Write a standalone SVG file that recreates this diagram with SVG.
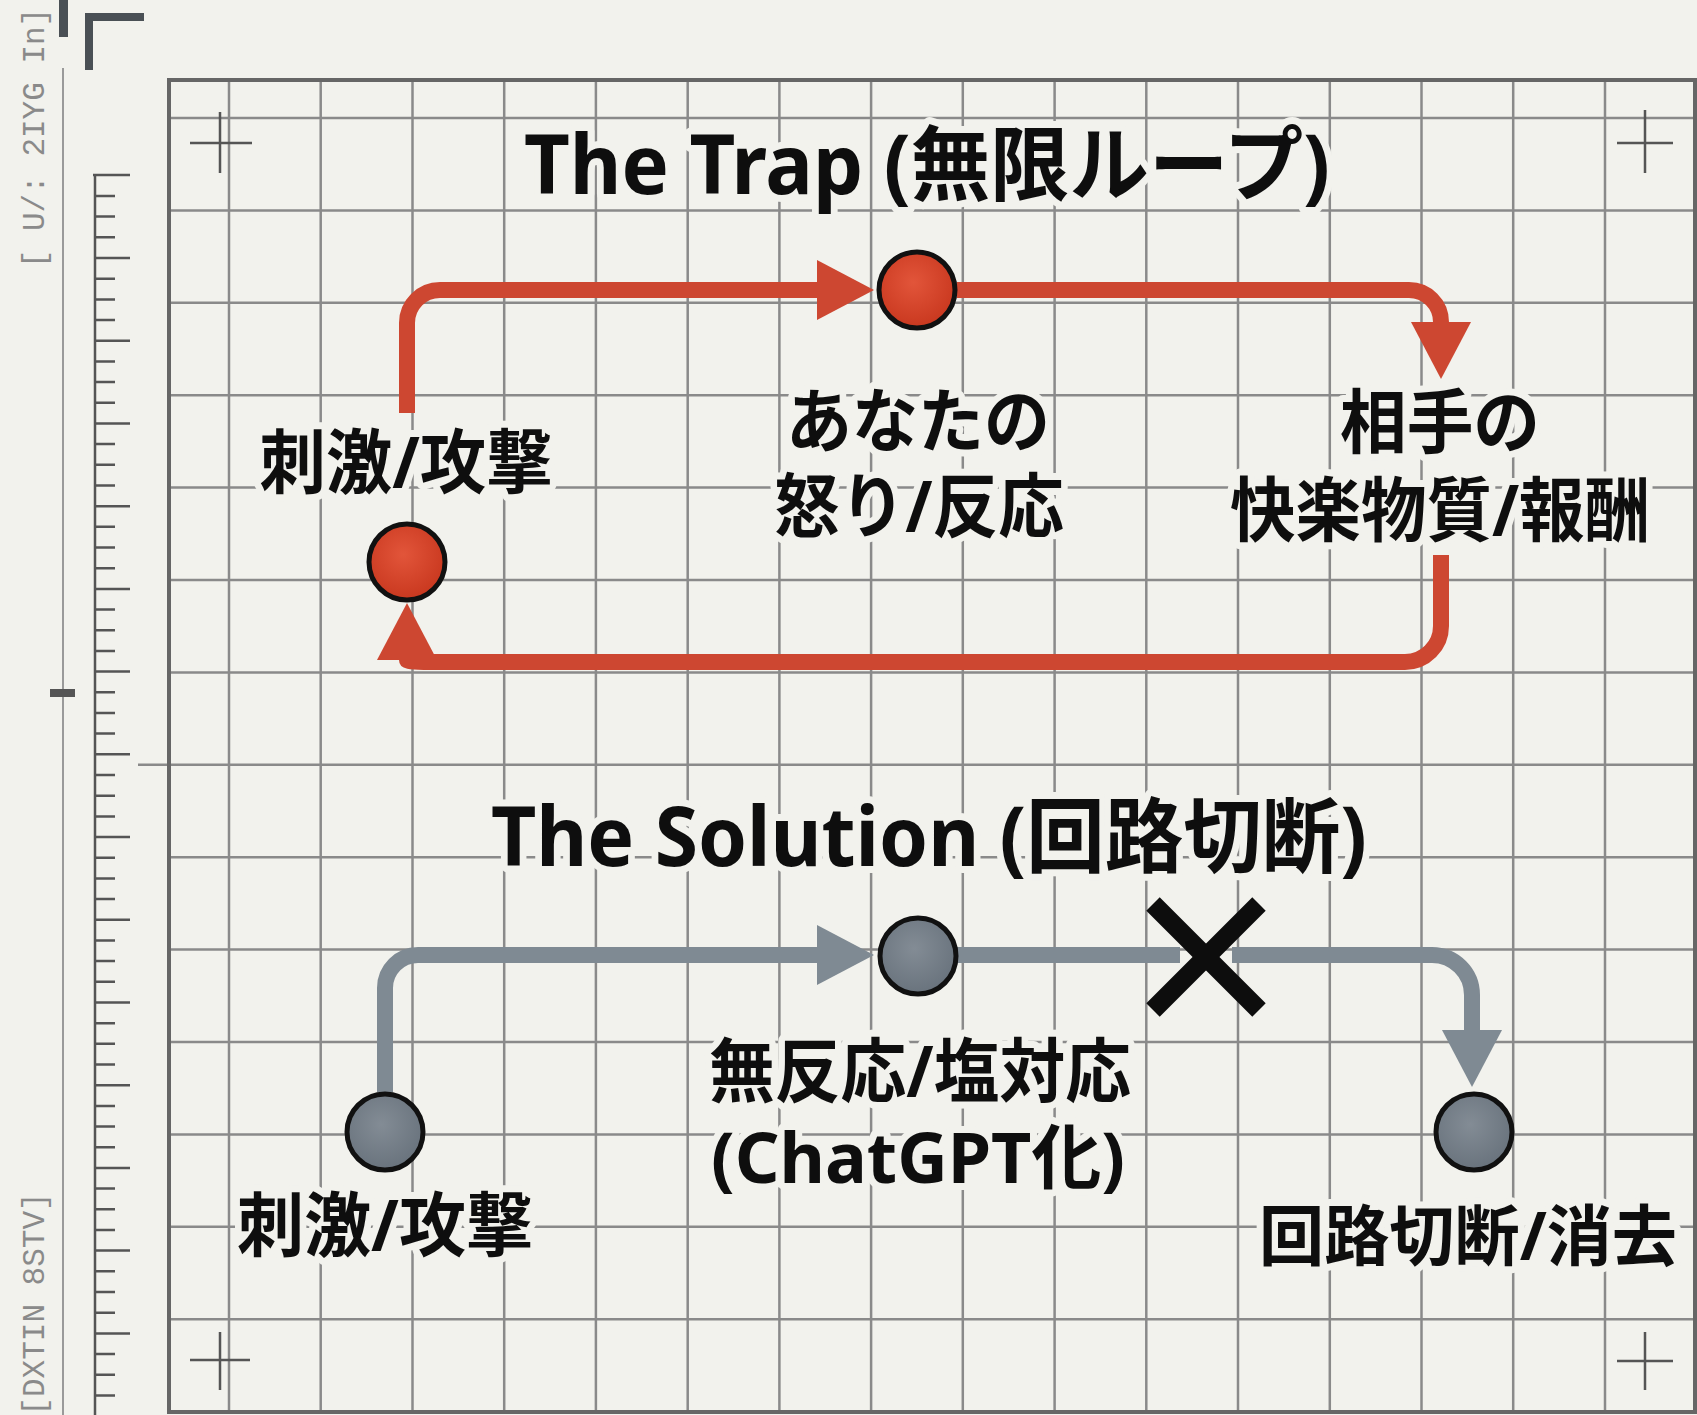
<svg xmlns="http://www.w3.org/2000/svg" width="1697" height="1415" viewBox="0 0 1697 1415">
<defs>
<style>
.grid{stroke:#8a8a8a;stroke-width:2.5;fill:none}
.frame{stroke:#666;stroke-width:4;fill:none}
.cross{stroke:#555;stroke-width:2.5;fill:none}
.ruler{stroke:#555;stroke-width:2.5;fill:none}
.lbl{font-family:'Noto Sans','Noto Sans CJK JP',sans-serif;font-weight:700;fill:#0e0e0e;text-anchor:middle;stroke:#f2f2ed;stroke-width:14;stroke-linejoin:round;paint-order:stroke}
.title{font-size:82px}
.node-lbl{font-size:70px}
.mono{font-family:'Liberation Mono',monospace;font-size:31px;fill:#8a8a8a;text-anchor:middle}
.red-line{stroke:#cd4731;stroke-width:16;fill:none}
.gray-line{stroke:#7f8a93;stroke-width:16;fill:none}
.node{stroke:#111;stroke-width:5}
</style>
<radialGradient id="gRed" cx="0.45" cy="0.4" r="0.6">
<stop offset="0" stop-color="#e2553a"/>
<stop offset="1" stop-color="#c9381f"/>
</radialGradient>
<radialGradient id="gGray" cx="0.45" cy="0.4" r="0.6">
<stop offset="0" stop-color="#838c95"/>
<stop offset="1" stop-color="#69737d"/>
</radialGradient>
<marker id="arrRed" markerUnits="userSpaceOnUse" viewBox="0 0 57 60" refX="0" refY="30" markerWidth="57" markerHeight="60" orient="auto">
<path d="M0,0 L57,30 L0,60 Z" fill="#cd4731"/>
</marker>
<marker id="arrGray" markerUnits="userSpaceOnUse" viewBox="0 0 57 60" refX="0" refY="30" markerWidth="57" markerHeight="60" orient="auto">
<path d="M0,0 L57,30 L0,60 Z" fill="#7f8a93"/>
</marker>
</defs>

<rect x="0" y="0" width="1697" height="1415" fill="#f2f2ed"/>

<g id="sheet-grid">
<path class="grid" d="M229,80V1412 M320.7,80V1412 M412.5,80V1412 M504.2,80V1412 M595.9,80V1412 M687.7,80V1412 M779.4,80V1412 M871.1,80V1412 M962.8,80V1412 M1054.6,80V1412 M1146.3,80V1412 M1238,80V1412 M1329.8,80V1412 M1421.5,80V1412 M1513.2,80V1412 M1605,80V1412"/>
<path class="grid" d="M169,118H1697 M169,210.4H1697 M169,302.8H1697 M169,395.2H1697 M169,487.6H1697 M169,580H1697 M169,672.4H1697 M138,764.8H1697 M169,857.2H1697 M169,949.6H1697 M169,1042H1697 M169,1134.4H1697 M169,1226.8H1697 M169,1319.2H1697"/>
<rect class="frame" x="169" y="80" width="1526" height="1332"/>
<path class="cross" d="M190,143H252 M220,112V173 M1617,143H1673 M1645,110V173 M190,1360H250 M220,1332V1390 M1617,1361H1673 M1645,1332V1390"/>
</g>

<g id="margin-ruler">
<line x1="63" y1="68" x2="63" y2="1415" stroke="#9a9a9a" stroke-width="2"/>
<rect x="50" y="689" width="25" height="8" fill="#555"/>
<rect x="59" y="0" width="9" height="37" fill="#4a5055"/>
<path d="M89,70V17H144" stroke="#4a5055" stroke-width="8" fill="none"/>
<path class="ruler" d="M95,175V1415 M93,175H130"/>
<path class="ruler" d="M95,196H115 M95,216.6H115 M95,237.3H115 M95,278.7H115 M95,299.4H115 M95,320H115 M95,361.4H115 M95,382.1H115 M95,402.8H115 M95,444.1H115 M95,464.8H115 M95,485.5H115 M95,526.8H115 M95,547.5H115 M95,568.2H115 M95,609.6H115 M95,630.2H115 M95,650.9H115 M95,692.3H115 M95,713H115 M95,733.6H115 M95,775H115 M95,795.7H115 M95,816.4H115 M95,857.7H115 M95,878.4H115 M95,899.1H115 M95,940.4H115 M95,961.1H115 M95,981.8H115 M95,1023.2H115 M95,1043.8H115 M95,1064.5H115 M95,1105.9H115 M95,1126.6H115 M95,1147.2H115 M95,1188.6H115 M95,1209.3H115 M95,1230H115 M95,1271.3H115 M95,1292H115 M95,1312.7H115 M95,1354H115 M95,1374.7H115 M95,1395.4H115"/>
<path class="ruler" d="M95,258H130 M95,340.7H130 M95,423.4H130 M95,506.2H130 M95,588.9H130 M95,671.6H130 M95,754.3H130 M95,837H130 M95,919.8H130 M95,1002.5H130 M95,1085.2H130 M95,1167.9H130 M95,1250.6H130 M95,1333.4H130"/>
<text class="mono" transform="translate(44,138) rotate(-90)">[ U/: 2IYG In]</text>
<text class="mono" transform="translate(44,1304) rotate(-90)">[DXTIN 8STV]</text>
</g>

<g id="titles">
<text id="title-trap" class="lbl title" x="927" y="194" textLength="806" lengthAdjust="spacingAndGlyphs">The Trap (無限ループ)</text>
<text id="title-solution" class="lbl title" x="929" y="866" textLength="876" lengthAdjust="spacingAndGlyphs">The Solution (回路切断)</text>
</g>

<g id="connectors">
<path class="red-line" d="M407,413V323A33,33 0 0 1 440,290H817" marker-end="url(#arrRed)"/>
<path class="red-line" d="M957,290H1409A32,32 0 0 1 1441,322" marker-end="url(#arrRed)"/>
<path class="red-line" d="M1441,555V626A36,36 0 0 1 1405,662H437Q407,662 407,660" marker-end="url(#arrRed)"/>
<path class="gray-line" d="M385,1092V988A33,33 0 0 1 418,955H817" marker-end="url(#arrGray)"/>
<path class="gray-line" d="M957,955H1180 M1232,955H1432A40,40 0 0 1 1472,995V1030" marker-end="url(#arrGray)"/>
<g id="cut-mark" stroke="#0d0d0d" stroke-width="19">
<line x1="1153" y1="904" x2="1259" y2="1010"/>
<line x1="1259" y1="904" x2="1153" y2="1010"/>
</g>
</g>

<g id="trap-stimulus">
<circle class="node" cx="407" cy="562" r="38" fill="url(#gRed)"/>
<text class="lbl node-lbl" x="406" y="488" textLength="293" lengthAdjust="spacingAndGlyphs">刺激/攻撃</text>
</g>
<g id="trap-anger">
<circle class="node" cx="917" cy="290" r="38" fill="url(#gRed)"/>
<text class="lbl node-lbl"><tspan x="918" y="447" textLength="264" lengthAdjust="spacingAndGlyphs">あなたの</tspan><tspan x="919" y="532" textLength="290" lengthAdjust="spacingAndGlyphs">怒り/反応</tspan></text>
</g>
<g id="trap-reward">
<text class="lbl node-lbl"><tspan x="1440" y="448" textLength="200" lengthAdjust="spacingAndGlyphs">相手の</tspan><tspan x="1440" y="536" textLength="420" lengthAdjust="spacingAndGlyphs">快楽物質/報酬</tspan></text>
</g>

<g id="sol-stimulus">
<circle class="node" cx="385" cy="1132" r="38" fill="url(#gGray)"/>
<text class="lbl node-lbl" x="385" y="1251" textLength="296" lengthAdjust="spacingAndGlyphs">刺激/攻撃</text>
</g>
<g id="sol-noreaction">
<circle class="node" cx="918" cy="956" r="38" fill="url(#gGray)"/>
<text class="lbl node-lbl"><tspan x="920" y="1097" textLength="422" lengthAdjust="spacingAndGlyphs">無反応/塩対応</tspan><tspan x="918" y="1183" textLength="414" lengthAdjust="spacingAndGlyphs">(ChatGPT化)</tspan></text>
</g>
<g id="sol-erase">
<circle class="node" cx="1474" cy="1132" r="38" fill="url(#gGray)"/>
<text class="lbl node-lbl" x="1468" y="1260" style="font-size:66px" textLength="418" lengthAdjust="spacingAndGlyphs">回路切断/消去</text>
</g>
</svg>
